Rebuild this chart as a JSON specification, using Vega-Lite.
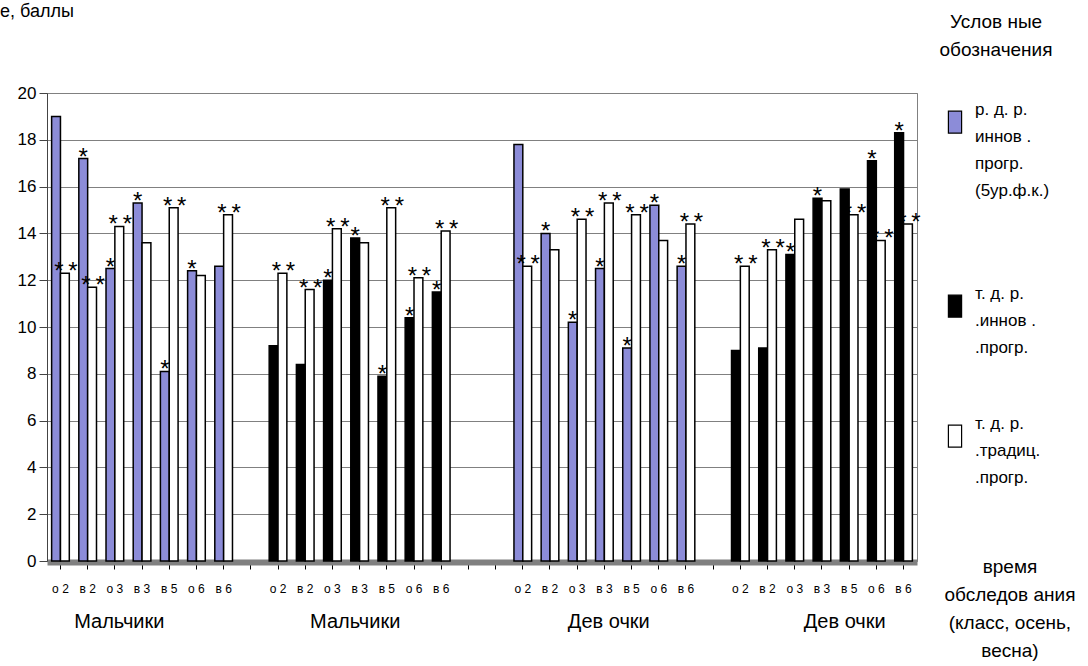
{
  "$schema": "https://vega.github.io/schema/vega-lite/v6.json",
  "autosize": {"type": "none"},
  "padding": {"left": 47, "top": 93, "right": 171, "bottom": 105},
  "width": 870,
  "height": 468,
  "background": "white",
  "config": {
    "font": "Liberation Sans",
    "view": {"stroke": "#808080", "strokeWidth": 1},
    "style": {
      "guide-label": {"lineHeight": 27},
      "guide-title": {"lineHeight": 28}
    }
  },
  "data": {
    "values": [
      {"c": "1|о 2", "p": "1", "s": "A", "v": 19.0, "st": "", "g": ""},
      {"c": "1|о 2", "p": "2", "s": "C", "v": 12.3, "st": "**", "g": ""},
      {"c": "1|в 2", "p": "1", "s": "A", "v": 17.2, "st": "*", "g": ""},
      {"c": "1|в 2", "p": "2", "s": "C", "v": 11.7, "st": "**", "g": ""},
      {"c": "1|о 3", "p": "1", "s": "A", "v": 12.5, "st": "*", "g": ""},
      {"c": "1|о 3", "p": "2", "s": "C", "v": 14.3, "st": "**", "g": "Мальчики"},
      {"c": "1|в 3", "p": "1", "s": "A", "v": 15.3, "st": "*", "g": ""},
      {"c": "1|в 3", "p": "2", "s": "C", "v": 13.6, "st": "", "g": ""},
      {"c": "1|в 5", "p": "1", "s": "A", "v": 8.1, "st": "*", "g": ""},
      {"c": "1|в 5", "p": "2", "s": "C", "v": 15.1, "st": "**", "g": ""},
      {"c": "1|о 6", "p": "1", "s": "A", "v": 12.4, "st": "*", "g": ""},
      {"c": "1|о 6", "p": "2", "s": "C", "v": 12.2, "st": "", "g": ""},
      {"c": "1|в 6", "p": "1", "s": "A", "v": 12.6, "st": "", "g": ""},
      {"c": "1|в 6", "p": "2", "s": "C", "v": 14.8, "st": "**", "g": ""},
      {"c": "2|о 2", "p": "1", "s": "B", "v": 9.2, "st": "", "g": ""},
      {"c": "2|о 2", "p": "2", "s": "C", "v": 12.3, "st": "**", "g": ""},
      {"c": "2|в 2", "p": "1", "s": "B", "v": 8.4, "st": "", "g": ""},
      {"c": "2|в 2", "p": "2", "s": "C", "v": 11.6, "st": "**", "g": ""},
      {"c": "2|о 3", "p": "1", "s": "B", "v": 12.0, "st": "*", "g": ""},
      {"c": "2|о 3", "p": "2", "s": "C", "v": 14.2, "st": "**", "g": ""},
      {"c": "2|в 3", "p": "1", "s": "B", "v": 13.8, "st": "*", "g": "Мальчики"},
      {"c": "2|в 3", "p": "2", "s": "C", "v": 13.6, "st": "", "g": ""},
      {"c": "2|в 5", "p": "1", "s": "B", "v": 7.9, "st": "*", "g": ""},
      {"c": "2|в 5", "p": "2", "s": "C", "v": 15.1, "st": "**", "g": ""},
      {"c": "2|о 6", "p": "1", "s": "B", "v": 10.4, "st": "*", "g": ""},
      {"c": "2|о 6", "p": "2", "s": "C", "v": 12.1, "st": "**", "g": ""},
      {"c": "2|в 6", "p": "1", "s": "B", "v": 11.5, "st": "*", "g": ""},
      {"c": "2|в 6", "p": "2", "s": "C", "v": 14.1, "st": "**", "g": ""},
      {"c": "3|о 2", "p": "1", "s": "A", "v": 17.8, "st": "", "g": ""},
      {"c": "3|о 2", "p": "2", "s": "C", "v": 12.6, "st": "**", "g": ""},
      {"c": "3|в 2", "p": "1", "s": "A", "v": 14.0, "st": "*", "g": ""},
      {"c": "3|в 2", "p": "2", "s": "C", "v": 13.3, "st": "", "g": ""},
      {"c": "3|о 3", "p": "1", "s": "A", "v": 10.2, "st": "*", "g": ""},
      {"c": "3|о 3", "p": "2", "s": "C", "v": 14.6, "st": "**", "g": ""},
      {"c": "3|в 3", "p": "1", "s": "A", "v": 12.5, "st": "*", "g": ""},
      {"c": "3|в 3", "p": "2", "s": "C", "v": 15.3, "st": "**", "g": "Дев очки"},
      {"c": "3|в 5", "p": "1", "s": "A", "v": 9.1, "st": "*", "g": ""},
      {"c": "3|в 5", "p": "2", "s": "C", "v": 14.8, "st": "**", "g": ""},
      {"c": "3|о 6", "p": "1", "s": "A", "v": 15.2, "st": "*", "g": ""},
      {"c": "3|о 6", "p": "2", "s": "C", "v": 13.7, "st": "", "g": ""},
      {"c": "3|в 6", "p": "1", "s": "A", "v": 12.6, "st": "*", "g": ""},
      {"c": "3|в 6", "p": "2", "s": "C", "v": 14.4, "st": "**", "g": ""},
      {"c": "4|о 2", "p": "1", "s": "B", "v": 9.0, "st": "", "g": ""},
      {"c": "4|о 2", "p": "2", "s": "C", "v": 12.6, "st": "**", "g": ""},
      {"c": "4|в 2", "p": "1", "s": "B", "v": 9.1, "st": "", "g": ""},
      {"c": "4|в 2", "p": "2", "s": "C", "v": 13.3, "st": "**", "g": ""},
      {"c": "4|о 3", "p": "1", "s": "B", "v": 13.1, "st": "*", "g": ""},
      {"c": "4|о 3", "p": "2", "s": "C", "v": 14.6, "st": "", "g": ""},
      {"c": "4|в 3", "p": "1", "s": "B", "v": 15.5, "st": "*", "g": ""},
      {"c": "4|в 3", "p": "2", "s": "C", "v": 15.4, "st": "", "g": ""},
      {"c": "4|в 5", "p": "1", "s": "B", "v": 15.9, "st": "", "g": "Дев очки"},
      {"c": "4|в 5", "p": "2", "s": "C", "v": 14.8, "st": "**", "g": ""},
      {"c": "4|о 6", "p": "1", "s": "B", "v": 17.1, "st": "*", "g": ""},
      {"c": "4|о 6", "p": "2", "s": "C", "v": 13.7, "st": "**", "g": ""},
      {"c": "4|в 6", "p": "1", "s": "B", "v": 18.3, "st": "*", "g": ""},
      {"c": "4|в 6", "p": "2", "s": "C", "v": 14.4, "st": "**", "g": ""}
    ]
  },
  "encoding": {
    "x": {
      "field": "c",
      "type": "nominal",
      "scale": {
        "domain": ["1|о 2", "1|в 2", "1|о 3", "1|в 3", "1|в 5", "1|о 6", "1|в 6", "1|_",
                   "2|о 2", "2|в 2", "2|о 3", "2|в 3", "2|в 5", "2|о 6", "2|в 6", "2|_a", "2|_b",
                   "3|о 2", "3|в 2", "3|о 3", "3|в 3", "3|в 5", "3|о 6", "3|в 6", "3|_",
                   "4|о 2", "4|в 2", "4|о 3", "4|в 3", "4|в 5", "4|о 6", "4|в 6"],
        "paddingInner": 0.35,
        "paddingOuter": 0.17
      },
      "axis": {
        "labelExpr": "indexof(datum.value, '_') >= 0 ? '' : split(datum.value, '|')[1]",
        "labelAngle": 0,
        "labelFontSize": 12,
        "labelColor": "#000",
        "labelPadding": 14,
        "tickSize": 7,
        "tickColor": "#000",
        "domainColor": "#808080",
        "domainWidth": 6,
        "offset": 1,
        "grid": false,
        "title": null
      }
    },
    "xOffset": {"field": "p", "type": "nominal"},
    "y": {
      "field": "v",
      "type": "quantitative",
      "scale": {"domain": [0, 20], "nice": false},
      "axis": {
        "values": [0, 2, 4, 6, 8, 10, 12, 14, 16, 18, 20],
        "grid": true,
        "gridColor": "#808080",
        "domainColor": "#444",
        "tickColor": "#444",
        "tickSize": 8,
        "labelFontSize": 17,
        "labelColor": "#000",
        "labelPadding": 3,
        "title": null
      }
    }
  },
  "layer": [
    {
      "mark": {"type": "bar", "stroke": "#000", "strokeWidth": 1.5},
      "encoding": {
        "fill": {
          "field": "s",
          "type": "nominal",
          "scale": {"domain": ["A", "B", "C"], "range": ["#8c8cd8", "#000000", "#ffffff"]},
          "legend": {
            "orient": "none",
            "legendX": 892,
            "legendY": -80,
            "title": ["Услов ные", "обозначения"],
            "titleFontSize": 19,
            "titleFontWeight": "normal",
            "titleColor": "#000",
            "titleAnchor": "middle",
            "titleAlign": "center",
            "titlePadding": 43,
            "labelExpr": "split(datum.label == 'A' ? 'р. д. р.|иннов .|прогр.|(5ур.ф.к.)| ' : datum.label == 'B' ? 'т. д. р.|.иннов .|.прогр.' : 'т. д. р.|.традиц.|.прогр.', '|')",
            "labelFontSize": 17,
            "labelColor": "#000",
            "labelBaseline": "alphabetic",
            "labelOffset": 8,
            "labelLimit": 300,
            "rowPadding": 59,
            "symbolType": "M-0.6,-0.35H0.6V1.65H-0.6Z",
            "symbolSize": 484,
            "symbolStrokeColor": "#000",
            "symbolStrokeWidth": 1.2
          }
        }
      }
    },
    {
      "transform": [{"filter": "datum.st == '*'"}],
      "mark": {"type": "text", "baseline": "alphabetic", "dy": 6, "fontSize": 24, "color": "#000"},
      "encoding": {
        "text": {"value": "*"}
      }
    },
    {
      "transform": [{"filter": "datum.st == '**'"}],
      "mark": {"type": "text", "baseline": "alphabetic", "dy": 6, "dx": 1, "fontSize": 24, "color": "#000"},
      "encoding": {
        "text": {"value": "*\u2009*"}
      }
    },
    {
      "transform": [{"filter": "datum.g != ''"}],
      "mark": {"type": "text", "baseline": "middle", "dy": 61, "fontSize": 20, "color": "#000"},
      "encoding": {
        "y": {"datum": 0, "type": "quantitative"},
        "text": {"field": "g"}
      }
    },
    {
      "transform": [{"filter": "datum.c == '4|в 6' && datum.p == '2'"}],
      "mark": {"type": "text", "baseline": "alphabetic", "align": "center", "dx": 102, "dy": 12, "fontSize": 19, "lineHeight": 28, "color": "#000"},
      "encoding": {
        "y": {"datum": 0, "type": "quantitative"},
        "text": {"value": ["время", "обследов ания", "(класс, осень,", "весна)"]}
      }
    },
    {
      "transform": [{"filter": "datum.c == '1|о 2' && datum.p == '1'"}],
      "mark": {"type": "text", "baseline": "middle", "align": "left", "dx": -56, "dy": -81, "fontSize": 18, "color": "#000"},
      "encoding": {
        "y": {"datum": 20, "type": "quantitative"},
        "text": {"value": "е, баллы"}
      }
    }
  ]
}
